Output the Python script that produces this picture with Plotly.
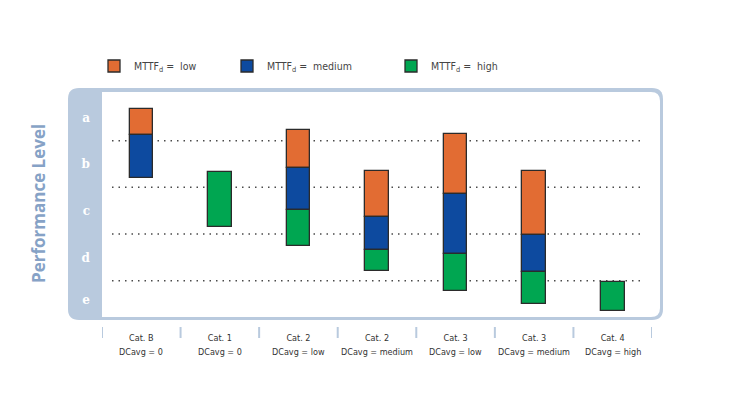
import plotly.graph_objects as go

# ---- data ----
cat_names = ["Cat. B", "Cat. 1", "Cat. 2", "Cat. 2", "Cat. 3", "Cat. 3", "Cat. 4"]
dc_names = ["DCavg = 0", "DCavg = 0", "DCavg = low", "DCavg = medium",
            "DCavg = low", "DCavg = medium", "DCavg = high"]
# performance level scale: a = 0..1, b = 1..2, c = 2..3, d = 3..4, e = 4..
level_labels = ["a", "b", "c", "d", "e"]
level_label_pos = [0.5, 1.5, 2.5, 3.5, 4.4]
level_bounds = [1, 2, 3, 4]

low_start = [0.33, None, 0.78, 1.66, 0.865, 1.66, None]
low_end = [0.885, None, 1.58, 2.635, 2.15, 3.02, None]
medium_start = [0.885, None, 1.58, 2.635, 2.15, 3.02, None]
medium_end = [1.81, None, 2.49, 3.34, 3.42, 3.81, None]
high_start = [None, 1.665, 2.49, 3.34, 3.42, 3.81, 4.03]
high_end = [None, 2.856, 3.25, 3.79, 4.22, 4.49, 4.64]

series_names = ["MTTF<sub>d</sub> =  low", "MTTF<sub>d</sub> =  medium", "MTTF<sub>d</sub> =  high"]
series_colors = ["#E26C33", "#0D4A9F", "#00A651"]
legend_ids = ["legend", "legend2", "legend3"]

# ---- layout geometry ----
W, H = 733, 413
ML, MR, MT, MB = 102, 81, 88, 93
PW, PH = W - ML - MR, H - MT - MB
BAND = "#B9CADE"
NARROW = "Liberation Sans Narrow, DejaVu Sans Condensed, Liberation Sans"

def px2x(px):
    return (px - ML) / PW

def px2y(py):
    return (H - MB - py) / PH

fig = go.Figure()
x = list(range(len(cat_names)))
for name, color, s, e, lg in zip(series_names, series_colors,
                                 [low_start, medium_start, high_start],
                                 [low_end, medium_end, high_end], legend_ids):
    lengths = [None if a is None else b - a for a, b in zip(s, e)]
    fig.add_trace(go.Bar(
        x=x, y=lengths, base=s, name=name, width=0.3,
        marker=dict(color=color, line=dict(color="#2b2b2b", width=1.3)),
        legend=lg, showlegend=True,
    ))

def rounded_path(x0, y0, x1, y1, r, round_left=True):
    def P(a, b):
        return f"{px2x(a):.5f},{px2y(b):.5f}"
    if round_left:
        d = (f"M{P(x0 + r, y0)} L{P(x1 - r, y0)} Q{P(x1, y0)} {P(x1, y0 + r)} "
             f"L{P(x1, y1 - r)} Q{P(x1, y1)} {P(x1 - r, y1)} L{P(x0 + r, y1)} "
             f"Q{P(x0, y1)} {P(x0, y1 - r)} L{P(x0, y0 + r)} Q{P(x0, y0)} {P(x0 + r, y0)} Z")
    else:
        d = (f"M{P(x0, y0)} L{P(x1 - r, y0)} Q{P(x1, y0)} {P(x1, y0 + r)} "
             f"L{P(x1, y1 - r)} Q{P(x1, y1)} {P(x1 - r, y1)} L{P(x0, y1)} Z")
    return d

shapes = [
    dict(type="path", xref="paper", yref="paper", path=rounded_path(68, 88, 663, 320, 11),
         fillcolor=BAND, line=dict(width=0), layer="below"),
    dict(type="path", xref="paper", yref="paper", path=rounded_path(102, 92, 660, 317, 9, False),
         fillcolor="white", line=dict(width=0), layer="below"),
]
for b in level_bounds:
    shapes.append(dict(type="line", xref="paper", yref="y", x0=px2x(112), x1=px2x(645),
                       y0=b, y1=b, line=dict(color="#4a4a4a", width=1.5, dash="1.5px,5px"),
                       layer="below"))
for i in range(len(cat_names) + 1):
    shapes.append(dict(type="line", xref="x", yref="paper", x0=i - 0.5, x1=i - 0.5,
                       y0=px2y(327), y1=px2y(338), line=dict(color=BAND, width=2)))

legend_common = dict(orientation="h", yanchor="middle", xanchor="left",
                     y=px2y(66), bgcolor="rgba(0,0,0,0)",
                     font=dict(family=NARROW, size=10.5, color="#444444"),
                     itemwidth=30, visible=True)

annotations = [dict(text="<b>Performance Level</b>", xref="paper", yref="paper",
                    x=px2x(38), y=px2y(204), xanchor="center", yanchor="middle",
                    textangle=-90, showarrow=False,
                    font=dict(family="Open Sans", size=17, color="#86A2C6"))]
for i, t in enumerate(dc_names):
    annotations.append(dict(text=t, xref="x", yref="paper", x=i, y=px2y(352),
                            xanchor="center", yanchor="middle", showarrow=False,
                            font=dict(family=NARROW, size=9, color="#333333")))

fig.update_layout(
    width=W, height=H, margin=dict(l=ML, r=MR, t=MT, b=MB, autoexpand=False),
    paper_bgcolor="white", plot_bgcolor="rgba(0,0,0,0)",
    barmode="overlay", bargap=0, showlegend=True,
    shapes=shapes,
    legend=dict(x=px2x(94), **legend_common),
    legend2=dict(x=px2x(227), **legend_common),
    legend3=dict(x=px2x(391), **legend_common),
    xaxis=dict(range=[-0.5, len(cat_names) - 0.5], tickvals=x, ticktext=cat_names,
               showgrid=False, zeroline=False, showline=False, ticks="",
               tickfont=dict(family=NARROW, size=9, color="#333333"),
               ticklabelstandoff=11, fixedrange=True),
    yaxis=dict(range=[(H - MB - 94) / 46.67, (MT - 94) / 46.67],
               tickvals=level_label_pos, ticktext=[f"<b>{t}</b>" for t in level_labels],
               showgrid=False, zeroline=False, showline=False, ticks="",
               tickfont=dict(family="DejaVu Serif", size=12, color="white"),
               ticklabelstandoff=11, fixedrange=True),
    annotations=annotations,
)

fig.write_html("out.html", config={"displayModeBar": False},
               post_script="document.body.style.margin='0px';")
